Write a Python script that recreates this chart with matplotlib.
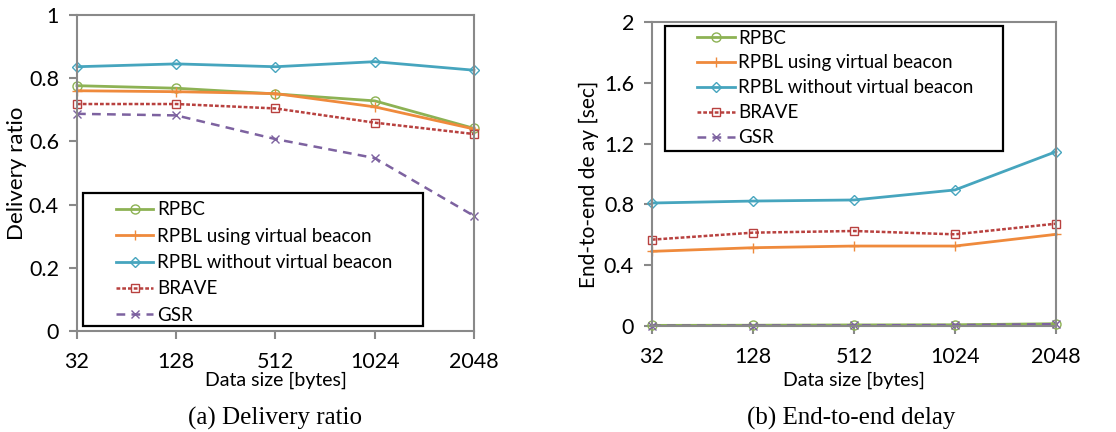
import numpy as np
import matplotlib
matplotlib.use('Agg')
import matplotlib.pyplot as plt
from matplotlib.patches import Rectangle

plt.rcParams['font.family'] = ['Lato', 'DejaVu Sans']

# data
sizes = ['32', '128', '512', '1024', '2048']
names = ['RPBC', 'RPBL using virtual beacon', 'RPBL without virtual beacon', 'BRAVE', 'GSR']

ratio_rpbc = [0.776, 0.768, 0.750, 0.728, 0.641]
ratio_rpbl_vb = [0.760, 0.757, 0.751, 0.709, 0.639]
ratio_rpbl_novb = [0.836, 0.845, 0.836, 0.852, 0.825]
ratio_brave = [0.718, 0.718, 0.704, 0.659, 0.623]
ratio_gsr = [0.687, 0.682, 0.607, 0.547, 0.364]

delay_rpbc = [0.004, 0.005, 0.007, 0.008, 0.015]
delay_rpbl_vb = [0.491, 0.515, 0.526, 0.526, 0.603]
delay_rpbl_novb = [0.809, 0.822, 0.829, 0.895, 1.147]
delay_brave = [0.568, 0.614, 0.625, 0.603, 0.673]
delay_gsr = [0.002, 0.003, 0.004, 0.006, 0.012]

# style per series: color, marker, linestyle
styles = [
    ('#8DB254', 'o', '-'),
    ('#EF8A3C', '+', '-'),
    ('#46A5BE', 'D', '-'),
    ('#B8413F', 's', (0, (1.5, 0.8))),
    ('#7D62A0', 'x', (0, (3.5, 2.5))),
]
msizes = {'o': 6.5, '+': 7, 'D': 4.8, 's': 5.5, 'x': 6}

x = np.arange(len(sizes))
grey = '#898989'


def draw(ax, series, ymax, ystep, ylabel, ylab_size, ylab_xy, xlab_y,
         leg_box, leg_anchor, leg_space):
    for vals, name, (c, m, ls) in zip(series, names, styles):
        ax.plot(x, vals, color=c, linestyle=ls, linewidth=2 if ls == '-' else 1.8,
                marker=m, markersize=msizes[m], markerfacecolor='none',
                markeredgecolor=c, markeredgewidth=1.0, label=name, clip_on=False)
    ax.set_xlim(0, 4)
    ax.set_ylim(0, ymax)
    ax.set_xticks(x)
    ax.set_xticklabels(sizes)
    ticks = np.arange(0, ymax + 1e-9, ystep)
    ax.set_yticks(ticks)
    ax.set_yticklabels([f'{v:g}' for v in ticks])
    for s in ax.spines.values():
        s.set_color(grey)
        s.set_linewidth(1.5)
    ax.tick_params(axis='both', colors=grey, labelcolor='black', labelsize=15.5,
                   length=6, width=1.5, direction='out')
    ax.tick_params(axis='x', pad=9)
    ax.tick_params(axis='y', pad=7)
    ax.set_xlabel('Data size [bytes]', fontsize=14, va='center')
    ax.xaxis.set_label_coords(0.5, xlab_y)
    ax.set_ylabel(ylabel, fontsize=ylab_size, va='center')
    ax.yaxis.set_label_coords(ylab_xy[0], ylab_xy[1])
    ax.add_patch(Rectangle((leg_box[0], leg_box[1]), leg_box[2], leg_box[3],
                           transform=ax.transAxes, fill=False, edgecolor='black',
                           linewidth=1.6, zorder=5, clip_on=False))
    ax.legend(loc='upper left', bbox_to_anchor=leg_anchor, frameon=False,
              fontsize=13.5, handlelength=2.0, handletextpad=0.2,
              labelspacing=leg_space, borderpad=0, borderaxespad=0)


fig = plt.figure(figsize=(11.16, 4.32), dpi=100)
ax1 = fig.add_axes([0.069, 0.234, 0.3557, 0.7315])
ax2 = fig.add_axes([0.5842, 0.2454, 0.362, 0.7037])

draw(ax1, [ratio_rpbc, ratio_rpbl_vb, ratio_rpbl_novb, ratio_brave, ratio_gsr],
     1.0, 0.2, 'Delivery ratio', 16, (-0.151, 0.5), -0.155,
     (0.015, 0.016, 0.8565, 0.421), (0.098, 0.41), 0.5)
draw(ax2, [delay_rpbc, delay_rpbl_vb, delay_rpbl_novb, delay_brave, delay_gsr],
     2.0, 0.4, 'End-to-end de ay [sec]', 15, (-0.156, 0.467), -0.178,
     (0.032, 0.576, 0.837, 0.411), (0.112, 0.975), 0.42)

fig.text(0.2465, 0.032, '(a) Delivery ratio', ha='center', va='center',
         fontsize=18, family='Liberation Serif')
fig.text(0.7625, 0.032, '(b) End-to-end delay', ha='center', va='center',
         fontsize=18, family='Liberation Serif')

fig.savefig('out.png', dpi=100)
